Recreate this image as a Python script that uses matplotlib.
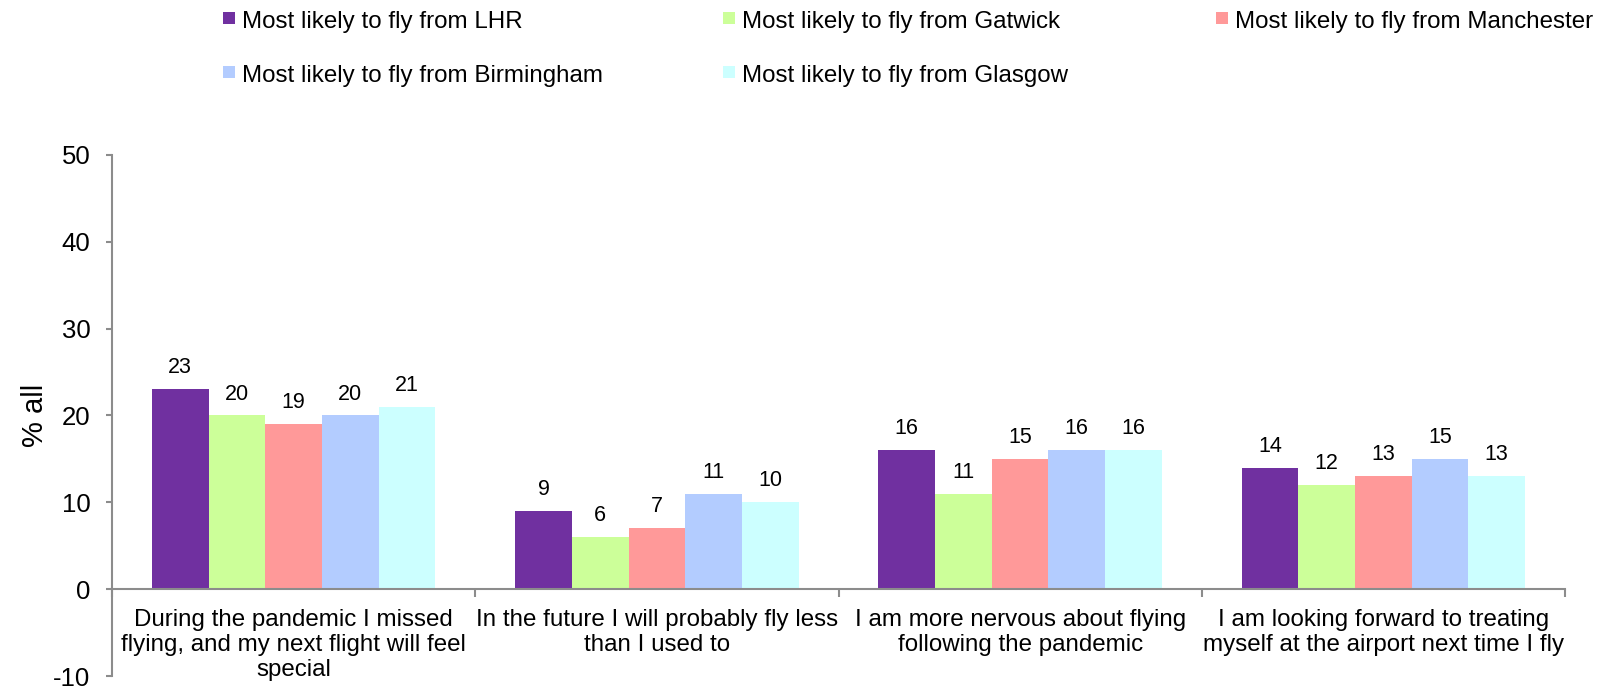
import matplotlib
matplotlib.use("Agg")
import matplotlib.pyplot as plt
from matplotlib.lines import Line2D
import numpy as np

plt.rcParams['font.family'] = ['Liberation Sans', 'DejaVu Sans']
plt.rcParams['axes.unicode_minus'] = False

categories = [
    "During the pandemic I missed\nflying, and my next flight will feel\nspecial",
    "In the future I will probably fly less\nthan I used to",
    "I am more nervous about flying\nfollowing the pandemic",
    "I am looking forward to treating\nmyself at the airport next time I fly",
]
series_names = [
    "Most likely to fly from LHR",
    "Most likely to fly from Gatwick",
    "Most likely to fly from Manchester",
    "Most likely to fly from Birmingham",
    "Most likely to fly from Glasgow",
]
lhr = [23, 9, 16, 14]
gatwick = [20, 6, 11, 12]
manchester = [19, 7, 15, 13]
birmingham = [20, 11, 16, 15]
glasgow = [21, 10, 16, 13]
series_values = [lhr, gatwick, manchester, birmingham, glasgow]
colors = ["#7030A0", "#CCFF99", "#FF9999", "#B3CCFF", "#CCFFFF"]
yticks = [-10, 0, 10, 20, 30, 40, 50]

fig = plt.figure(figsize=(16.01, 6.86), dpi=100)
ax = fig.add_axes([112/1601, 1-676/686, (1565-112)/1601, (676-155)/686])

n = len(series_names)
bw = 0.156
x = np.arange(len(categories))
for i, (name, vals, c) in enumerate(zip(series_names, series_values, colors)):
    pos = x + (i - (n-1)/2) * bw
    ax.bar(pos, vals, width=bw, color=c, edgecolor='none', label=name)
    for px, v in zip(pos, vals):
        ax.annotate(str(v), (px, v), xytext=(0, 11.5), textcoords='offset points',
                    ha='center', va='baseline', fontsize=15.5, color='black')

ax.set_xlim(-0.5, len(categories) - 0.5)
ax.set_ylim(-10, 50)
ax.set_yticks(yticks)
ax.tick_params(axis='y', labelsize=18.5, length=4.5, width=1.5, color='#8C8C8C', pad=11)
ax.set_ylabel('% all', fontsize=21, labelpad=3)

ax.spines['top'].set_visible(False)
ax.spines['right'].set_visible(False)
ax.spines['bottom'].set_position(('data', 0))
for s in ['left', 'bottom']:
    ax.spines[s].set_color('#8C8C8C')
    ax.spines[s].set_linewidth(1.5)

ax.set_xticks(x)
ax.set_xticklabels(categories, fontsize=17.4)
ax.set_xticks(np.arange(len(categories) + 1) - 0.5, minor=True)
ax.tick_params(axis='x', which='major', length=0, pad=14)
ax.tick_params(axis='x', which='minor', length=6, width=1.5, color='#8C8C8C', direction='out')

handles = [Line2D([], [], marker='s', linestyle='none', markersize=9,
                  markerfacecolor=c, markeredgewidth=0) for c in colors]
cols = [[0, 3], [1, 4], [2]]
col_x = [221, 721, 1214]
for idx, cx in zip(cols, col_x):
    leg = fig.legend([handles[i] for i in idx], [series_names[i] for i in idx],
                     loc='upper left', bbox_to_anchor=(cx/1601, 1-8/686),
                     frameon=False, fontsize=17.4, handlelength=0.7, handleheight=1.1,
                     handletextpad=0.15, labelspacing=1.22, borderpad=0, borderaxespad=0)

fig.savefig('out.png', dpi=100)
